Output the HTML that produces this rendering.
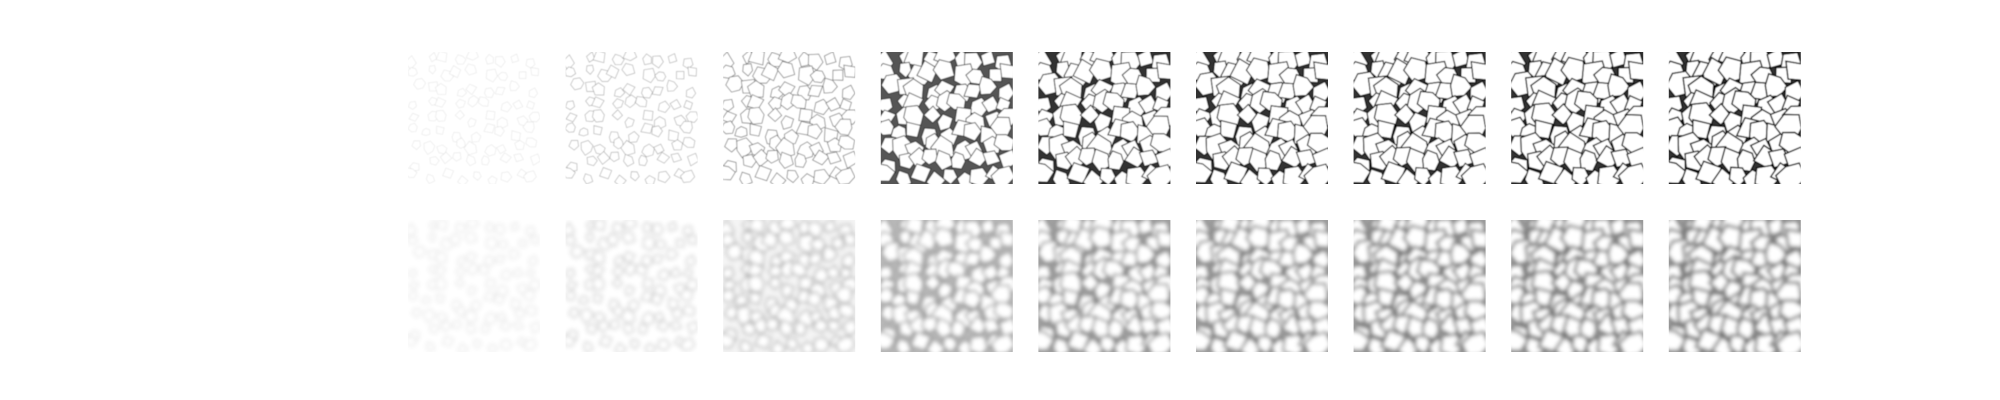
<!DOCTYPE html>
<html><head><meta charset="utf-8"><style>
html,body{margin:0;padding:0;background:#fff;width:2000px;height:400px;overflow:hidden}
svg{display:block}
</style></head><body>
<svg id="fig" width="2000" height="400" xmlns="http://www.w3.org/2000/svg">
<defs>
<filter id="blur1" x="-5%" y="-5%" width="110%" height="110%"><feGaussianBlur stdDeviation="2"/></filter>
<filter id="blur0" x="-5%" y="-5%" width="110%" height="110%"><feGaussianBlur stdDeviation="0.45"/></filter>
</defs>
</svg>
<script>
// tile stages (iteration index) and layout
const stages = [0,1,2,3,4,5,6,7,8];
const rows = ['sharp','blurred'];
const tileX0 = 408, tileStep = 157.6, tileSize = 132;
const rowY = [52, 220];
const grainScale = [0.9, 1.0, 1.35, 1.65, 1.85, 1.95, 2.0, 2.05, 2.1];

const NS = 'http://www.w3.org/2000/svg';
const svg = document.getElementById('fig');
let seed = 12345;
function rnd(){ seed = (seed*16807) % 2147483647; return (seed-1)/2147483646; }
const grains = [];
const G = 9;
for (let gy=0; gy<G; gy++) for (let gx=0; gx<G; gx++){
  const cx = (gx+0.5+(rnd()-0.5)*0.7)/G, cy = (gy+0.5+(rnd()-0.5)*0.7)/G;
  const r = 0.035 + rnd()*0.018, n = 4 + Math.floor(rnd()*3), rot = rnd()*6.28;
  const jit = []; for (let j=0;j<n;j++) jit.push(0.8+rnd()*0.4);
  grains.push({cx,cy,r,n,rot,jit});
}
function polyPts(g, scale, x, y){
  const pts = [];
  for (let j=0;j<g.n;j++){
    const a = g.rot + j*2*Math.PI/g.n;
    const rr = g.r*scale*g.jit[j]*tileSize;
    pts.push((x+g.cx*tileSize+rr*Math.cos(a)).toFixed(1)+','+(y+g.cy*tileSize+rr*Math.sin(a)).toFixed(1));
  }
  return pts.join(' ');
}
rows.forEach((row, ri) => {
  stages.forEach((k, ci) => {
    const x = tileX0 + ci*tileStep, y = rowY[ri];
    const g = document.createElementNS(NS,'g');
    
    
    const cp = document.createElementNS(NS,'clipPath');
    cp.setAttribute('id','c'+ri+'_'+ci);
    const cr = document.createElementNS(NS,'rect');
    cr.setAttribute('x',x);cr.setAttribute('y',y);cr.setAttribute('width',tileSize);cr.setAttribute('height',tileSize);
    cp.appendChild(cr); svg.appendChild(cp);
    g.setAttribute('clip-path','url(#c'+ri+'_'+ci+')');
    const inner = document.createElementNS(NS,'g');
    inner.setAttribute('filter', ri ? 'url(#blur1)' : 'url(#blur0)');
    let bgc = '#fff';
    if (ri) bgc = k<2 ? '#fff' : (k===2 ? '#f4f4f4' : (k===3 ? '#b8b8b8' : '#a0a0a0'));
    else bgc = k<3 ? '#fff' : (k===3 ? '#555' : '#333');
    const bg = document.createElementNS(NS,'rect');
    bg.setAttribute('x',x-5);bg.setAttribute('y',y-5);bg.setAttribute('width',tileSize+10);bg.setAttribute('height',tileSize+10);
    bg.setAttribute('fill', bgc);
    inner.appendChild(bg);
    const scale = grainScale[k];
    const dark = ri ? Math.min(1, 0.15 + k*0.14) : Math.min(1, 0.1 + k*0.2);
    const sw = ri ? 1.6 + k*0.15 : 0.6 + k*0.1;
    grains.forEach(gr => {
      const p = document.createElementNS(NS,'polygon');
      p.setAttribute('points', polyPts(gr, scale, x, y));
      p.setAttribute('fill', '#fff');
      p.setAttribute('stroke', ri ? '#707070' : '#000');
      p.setAttribute('stroke-opacity', dark);
      p.setAttribute('stroke-width', sw);
      inner.appendChild(p);
    });
    g.appendChild(inner);
    svg.appendChild(g);
  });
});
</script>
</body></html>
